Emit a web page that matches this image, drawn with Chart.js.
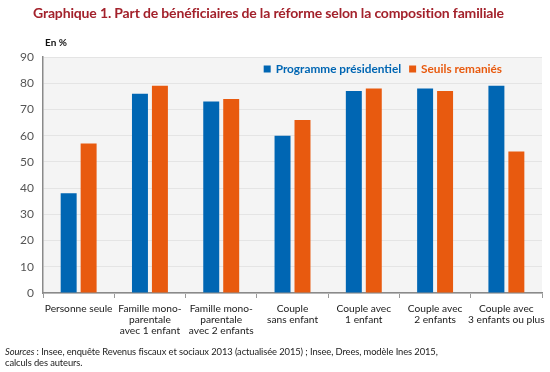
<!DOCTYPE html>
<html><head><meta charset="utf-8">
<script src="https://cdn.jsdelivr.net/npm/chart.js@4/dist/chart.umd.min.js"></script>
<style>
html,body{margin:0;padding:0;background:#fff;}
#wrap{position:relative;width:550px;height:372px;overflow:hidden;font-family:Lato,"Open Sans",sans-serif;}
#c{position:absolute;left:0;top:0;}
.t{position:absolute;white-space:nowrap;}
#title{left:33px;top:4px;font-size:14px;letter-spacing:-0.15px;font-weight:bold;color:#a3212b;}
#unit{left:45px;top:36px;font-size:10px;font-weight:bold;color:#111;}
#src{left:5px;top:346px;font-size:9.4px;letter-spacing:-0.1px;color:#222;line-height:11px;}
</style></head><body>
<div id="wrap">
<canvas id="c" width="550" height="372"></canvas>
<div class="t" id="title">Graphique 1. Part de bénéficiaires de la réforme selon la composition familiale</div>
<div class="t" id="unit">En %</div>
<div class="t" id="src"><i>Sources</i> : Insee, enquête Revenus fiscaux et sociaux 2013 (actualisée 2015) ; Insee, Drees, modèle Ines 2015,<br>calculs des auteurs.</div>
</div>
<script>
const categories = [
  ["Personne seule"],
  ["Famille mono-","parentale","avec 1 enfant"],
  ["Famille mono-","parentale","avec 2 enfants"],
  ["Couple","sans enfant"],
  ["Couple avec","1 enfant"],
  ["Couple avec","2 enfants"],
  ["Couple avec","3 enfants ou plus"]
];
const seriesNames = ["Programme présidentiel","Seuils remaniés"];
const programmePresidentiel = [38, 76, 73, 60, 77, 78, 79];
const seuilsRemanies = [57, 79, 74, 66, 78, 77, 54];
const yTicks = [0,10,20,30,40,50,60,70,80,90];

const colors = ["#0066b3","#e85a0f"];

const bgPlugin = {
  id:'bg',
  beforeDraw(chart){
    const {ctx, chartArea:a} = chart;
    ctx.save(); ctx.fillStyle='#f4f4f4';
    ctx.fillRect(a.left, a.top, a.right-a.left, a.bottom-a.top);
    ctx.restore();
  }
};
const legendPlugin = {
  id:'myLegend',
  afterDatasetsDraw(chart){
    const {ctx, chartArea:a} = chart;
    ctx.save();
    ctx.font = 'bold 11.8px Lato';
    ctx.textBaseline = 'middle';
    const ds = chart.data.datasets;
    const box = 7, gapBox = 5, gapItem = 8;
    let total = 0;
    const widths = ds.map(d => ctx.measureText(d.label).width);
    widths.forEach(w => total += box + gapBox + w);
    total += gapItem*(ds.length-1);
    let x = a.right - 40 - total;
    const y = a.top + 12;
    ds.forEach((d,i)=>{
      ctx.fillStyle = d.backgroundColor;
      ctx.fillRect(x, y-box/2, box, box);
      x += box + gapBox;
      ctx.fillText(d.label, x, y+0.5);
      x += widths[i] + gapItem;
    });
    ctx.restore();
  }
};

new Chart(document.getElementById('c'), {
  type:'bar',
  data:{
    labels: categories,
    datasets:[
      {label:seriesNames[0], data:programmePresidentiel, backgroundColor:colors[0], barPercentage:0.8, categoryPercentage:0.56},
      {label:seriesNames[1], data:seuilsRemanies, backgroundColor:colors[1], barPercentage:0.8, categoryPercentage:0.56}
    ]
  },
  options:{
    responsive:false, animation:false, devicePixelRatio:1,
    layout:{padding:{top:57,right:4,left:0,bottom:0}},
    plugins:{legend:{display:false}, tooltip:{enabled:false}},
    scales:{
      x:{
        grid:{display:true, offset:true, drawOnChartArea:false, drawTicks:true, tickLength:5, color:'#999'},
        border:{display:true, color:'#8a8a8a', width:1.5},
        ticks:{font:{family:'Lato', size:10.2, lineHeight:1.1}, color:'#1a1a1a', maxRotation:0, autoSkip:false, padding:5},
        afterFit(s){ s.height = 79; }
      },
      y:{
        min:0, max:90,
        afterBuildTicks(s){ s.ticks = yTicks.map(v=>({value:v})); },
        grid:{color:'#e4e4e4', drawTicks:false, lineWidth:1},
        border:{display:true, color:'#8a8a8a', width:1.5},
        ticks:{font:{family:'Lato', size:12}, color:'#555', padding:9},
        afterFit(s){ s.width = 43; }
      }
    }
  },
  plugins:[bgPlugin, legendPlugin]
});
</script>
</body></html>
